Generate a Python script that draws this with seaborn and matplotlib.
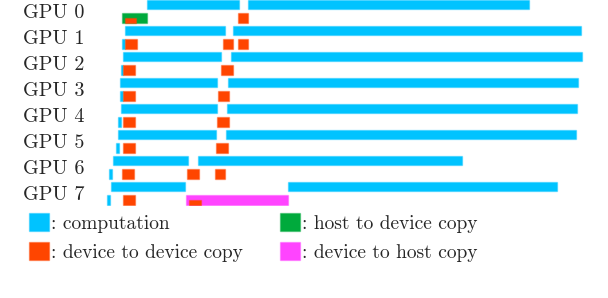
import matplotlib
matplotlib.use("Agg")
from matplotlib import pyplot as plt
from matplotlib.patches import Patch
import seaborn as sns

# colours
comp_color = "#00c3ff"
d2d_color = "#ff4500"
h2d_color = "#00aa3c"
d2h_color = "#ff44ff"

gpus = ["GPU 0", "GPU 1", "GPU 2", "GPU 3", "GPU 4", "GPU 5", "GPU 6", "GPU 7"]

# timeline values (arbitrary time units), (start, end) per block
compute = [
    [(47, 139), (148, 429)],
    [(25, 125), (133, 481)],
    [(23, 121), (131, 482)],
    [(20, 117), (128, 478)],
    [(21, 117), (127, 477)],
    [(18, 116), (126, 476)],
    [(13, 88), (98, 362)],
    [(11, 85), (188, 457)],
]
# short compute blocks shown in the copy lane
compute_small = [None, (22, 25), (20.5, 23), (20, 23), (17.7, 20.7), (16, 19), (9, 12), (7, 10)]
d2d = [
    [(137.7, 148.3)],
    [(25, 37), (122.7, 132.7), (137.7, 148.3)],
    [(23, 35), (121, 132.7)],
    [(23, 35), (117.7, 129.3)],
    [(22.7, 35), (117, 129)],
    [(23, 35), (116, 127.7)],
    [(22, 34), (87, 98.7), (115, 125.3)],
    [(23, 35)],
]
h2d = [[(22.3, 46.7)], [], [], [], [], [], [], []]
d2h = [[], [], [], [], [], [], [], [(86, 188.3)]]
# device-to-device copies overlapping another copy (drawn in the lower half)
d2d_overlap = [[(25.3, 36)], [], [], [], [], [], [], [(89, 101)]]

sns.set_style("white")
plt.rcParams["font.family"] = ["cmr10", "DejaVu Serif"]
plt.rcParams["axes.formatter.use_mathtext"] = True

fig = plt.figure(figsize=(6.08, 2.98), dpi=100)
ax = fig.add_axes([100 / 608, 1 - 206 / 298, 500 / 608, 206 / 298])

comp_h = 0.365
copy_h = 0.385
off = 0.26


def draw(y, blocks, h, color):
    for s, e in blocks:
        ax.barh(y, e - s, left=s, height=h, color=color,
                edgecolor=(*matplotlib.colors.to_rgb(color), 0.4), linewidth=1.0)


for i in range(len(gpus)):
    draw(i - off, compute[i], comp_h, comp_color)
    if compute_small[i] is not None:
        draw(i + off, [compute_small[i]], copy_h, comp_color)
    draw(i + off, h2d[i], copy_h, h2d_color)
    draw(i + off, d2h[i], copy_h, d2h_color)
    draw(i + off, d2d[i], copy_h, d2d_color)
    draw(i + off + copy_h / 4, d2d_overlap[i], copy_h / 2, d2d_color)

ax.set_xlim(0, 500)
ax.set_ylim(7.48, -0.44)
ax.set_yticks(range(len(gpus)))
ax.set_yticklabels(gpus, fontsize=14.5)
ax.tick_params(axis="y", length=0, pad=11)
ax.set_xticks([])
sns.despine(ax=ax, left=True, bottom=True)

handles = [
    Patch(facecolor=comp_color, edgecolor=(0, 0.76, 1, 0.4)),
    Patch(facecolor=d2d_color, edgecolor=(1, 0.27, 0, 0.4)),
    Patch(facecolor=h2d_color, edgecolor=(0, 0.67, 0.24, 0.4)),
    Patch(facecolor=d2h_color, edgecolor=(1, 0.27, 1, 0.4)),
]
labels = [": computation", ": device to device copy",
          ": host to device copy", ": device to host copy"]
fig.legend(handles, labels, ncol=2, loc="upper left",
           bbox_to_anchor=(29 / 608, 1 - 213 / 298), frameon=False,
           fontsize=14, handlelength=1.03, handleheight=1.03,
           handletextpad=0.1, columnspacing=1.9, labelspacing=0.5,
           borderpad=0, borderaxespad=0)

plt.savefig("out.png", dpi=100)
